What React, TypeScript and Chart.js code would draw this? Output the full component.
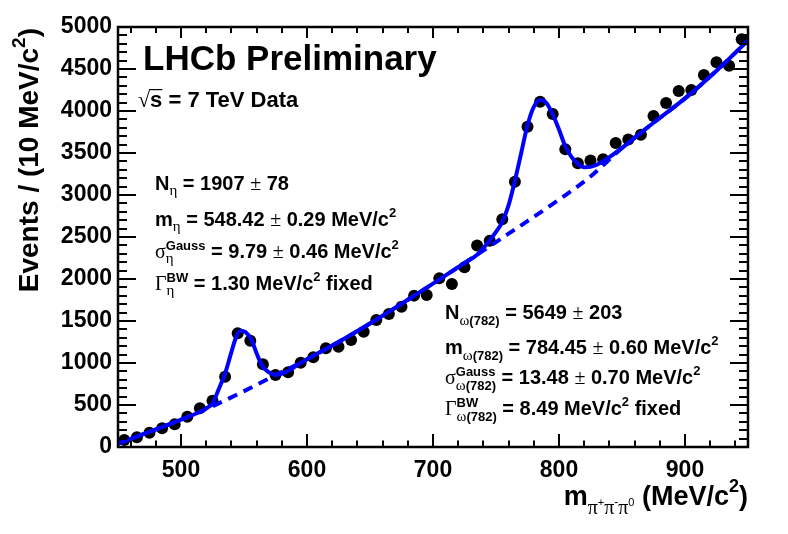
import React, { useEffect, useRef } from 'react';
import { Chart, registerables } from 'chart.js';

Chart.register(...registerables);

// ---- Data ----
const BIN_CENTERS = [
  455, 465, 475, 485, 495, 505, 515, 525, 535, 545,
  555, 565, 575, 585, 595, 605, 615, 625, 635, 645,
  655, 665, 675, 685, 695, 705, 715, 725, 735, 745,
  755, 765, 775, 785, 795, 805, 815, 825, 835, 845,
  855, 865, 875, 885, 895, 905, 915, 925, 935, 945,
];
const EVENTS = [
  83, 115, 170, 222, 270, 361, 460, 551, 837, 1353,
  1266, 985, 857, 891, 1004, 1068, 1175, 1194, 1274, 1373,
  1512, 1583, 1670, 1802, 1810, 2008, 1940, 2139, 2400, 2456,
  2710, 3159, 3813, 4111, 3964, 3546, 3377, 3410, 3425, 3620,
  3660, 3718, 3940, 4095, 4238, 4250, 4429, 4580, 4540, 4853,
];

const FIT_MASS = [
  450, 475, 500, 520, 525, 530, 535, 540, 544, 547,
  551, 556, 560, 564, 569, 575, 584, 594, 600, 625,
  650, 675, 700, 725, 735, 745, 750, 755, 760, 765,
  770, 775, 780, 785, 790, 795, 800, 805, 810, 815,
  820, 825, 830, 840, 850, 875, 900, 925, 950,
];
const FIT_EVENTS = [
  40, 180, 325, 460, 520, 690, 877, 1130, 1320, 1385,
  1370, 1274, 1115, 976, 897, 860, 897, 990, 1045, 1250,
  1470, 1705, 1945, 2190, 2290, 2460, 2560, 2680, 2880, 3170,
  3500, 3830, 4050, 4130, 4095, 3960, 3780, 3580, 3450, 3370,
  3330, 3335, 3360, 3450, 3560, 3860, 4150, 4480, 4840,
];

const BKG_MASS = [
  450, 475, 500, 525, 550, 575, 600, 625, 650, 675,
  700, 725, 750, 775, 800, 825, 850, 875, 900, 925, 950,
];
const BKG_EVENTS = [
  40, 180, 325, 485, 665, 855, 1045, 1250, 1470, 1705,
  1945, 2190, 2440, 2690, 2945, 3220, 3560, 3860, 4150, 4480, 4840,
];

const X_TICKS = [500, 600, 700, 800, 900];
const Y_TICKS = [0, 500, 1000, 1500, 2000, 2500, 3000, 3500, 4000, 4500, 5000];
const X_MINOR_STEP = 20;
const Y_MINOR_STEP = 100;

const SANS = '"Liberation Sans", Arial, Helvetica, sans-serif';
const SERIF = '"Liberation Serif", "Times New Roman", serif';
const BLUE = '#0000ff';

// ---- rich text helpers ----
type Piece = { t: string; size: number; bold: boolean; serif: boolean; dy: number };
type Item = Piece | { up: Piece[]; down: Piece[] };

const B = (t: string, size = 20, dy = 0): Piece => ({ t, size, bold: true, serif: false, dy });
const G = (t: string, size = 20, dy = 0): Piece => ({ t, size, bold: false, serif: true, dy });
const N = (t: string, size = 20, dy = 0): Piece => ({ t, size, bold: false, serif: false, dy });
const SUP2 = B('2', 13, -9);
const PM = G('±', 20, 0);

const ETA_LINES: Item[][] = [
  [B('N'), G('η', 15, 5), B(' = 1907 '), PM, B(' 78')],
  [B('m'), G('η', 15, 5), B(' = 548.42 '), PM, B(' 0.29 MeV/c'), SUP2],
  [G('σ'), { up: [B('Gauss', 13, -8)], down: [G('η', 15, 5)] }, B(' = 9.79 '), PM, B(' 0.46 MeV/c'), SUP2],
  [G('Γ'), { up: [B('BW', 13, -8)], down: [G('η', 15, 5)] }, B(' = 1.30 MeV/c'), SUP2, B(' fixed')],
];
const OMEGA_LINES: Item[][] = [
  [B('N'), G('ω', 15, 6), B('(782)', 13, 6), B(' = 5649 '), PM, B(' 203')],
  [B('m'), G('ω', 15, 6), B('(782)', 13, 6), B(' = 784.45 '), PM, B(' 0.60 MeV/c'), SUP2],
  [G('σ'), { up: [B('Gauss', 13, -8)], down: [G('ω', 15, 6), B('(782)', 13, 6)] }, B(' = 13.48 '), PM, B(' 0.70 MeV/c'), SUP2],
  [G('Γ'), { up: [B('BW', 13, -8)], down: [G('ω', 15, 6), B('(782)', 13, 6)] }, B(' = 8.49 MeV/c'), SUP2, B(' fixed')],
];
const X_TITLE: Item[] = [
  B('m', 27),
  G('π', 20, 9), N('+', 11, 1),
  G('π', 20, 9), N('-', 12, 1),
  G('π', 20, 9), N('0', 11, 1),
  B(' (MeV/c', 27), B('2', 18, -13), B(')', 27),
];
const Y_TITLE: Item[] = [B('Events / (10 MeV/c', 28), B('2', 19, -13), B(')', 28)];

function fontOf(p: Piece) {
  return `${p.bold ? 'bold ' : ''}${p.size}px ${p.serif ? SERIF : SANS}`;
}
function piecesWidth(ctx: CanvasRenderingContext2D, ps: Piece[]) {
  let w = 0;
  for (const p of ps) {
    ctx.font = fontOf(p);
    w += ctx.measureText(p.t).width;
  }
  return w;
}
function itemWidth(ctx: CanvasRenderingContext2D, it: Item) {
  return 'up' in it ? Math.max(piecesWidth(ctx, it.up), piecesWidth(ctx, it.down)) : piecesWidth(ctx, [it]);
}
function lineWidthOf(ctx: CanvasRenderingContext2D, items: Item[]) {
  return items.reduce((s, it) => s + itemWidth(ctx, it), 0);
}
function drawPieces(ctx: CanvasRenderingContext2D, ps: Piece[], x: number, y: number) {
  for (const p of ps) {
    ctx.font = fontOf(p);
    ctx.fillText(p.t, x, y + p.dy);
    x += ctx.measureText(p.t).width;
  }
}
function drawItems(ctx: CanvasRenderingContext2D, items: Item[], x: number, y: number) {
  for (const it of items) {
    if ('up' in it) {
      drawPieces(ctx, it.up, x, y);
      drawPieces(ctx, it.down, x, y);
    } else {
      drawPieces(ctx, [it], x, y);
    }
    x += itemWidth(ctx, it);
  }
}

const rootFramePlugin = {
  id: 'rootFrame',
  afterDatasetsDraw(chart: any) {
    const { ctx, chartArea } = chart;
    const { left, right, top, bottom } = chartArea;
    const xs = chart.scales.x;
    const ys = chart.scales.y;
    ctx.save();
    ctx.strokeStyle = '#000';
    ctx.lineWidth = 2;
    ctx.beginPath();
    const x0 = Math.ceil(xs.min / X_MINOR_STEP) * X_MINOR_STEP;
    for (let v = x0; v <= xs.max + 1e-6; v += X_MINOR_STEP) {
      const px = Math.round(xs.getPixelForValue(v));
      const major = X_TICKS.includes(v);
      ctx.moveTo(px, bottom);
      ctx.lineTo(px, bottom - (major ? 13 : 6.5));
      ctx.moveTo(px, top);
      ctx.lineTo(px, top + (major ? 11 : 6));
    }
    const y0 = Math.ceil(ys.min / Y_MINOR_STEP) * Y_MINOR_STEP;
    for (let v = y0; v <= ys.max + 1e-6; v += Y_MINOR_STEP) {
      const py = Math.round(ys.getPixelForValue(v));
      const major = Y_TICKS.includes(v);
      ctx.moveTo(left, py);
      ctx.lineTo(left + (major ? 18 : 9), py);
      ctx.moveTo(right, py);
      ctx.lineTo(right - (major ? 18 : 9), py);
    }
    ctx.stroke();
    ctx.lineWidth = 2.5;
    ctx.strokeRect(left, top, right - left, bottom - top);
    ctx.restore();
  },
  afterDraw(chart: any) {
    const { ctx, chartArea } = chart;
    ctx.save();
    ctx.fillStyle = '#000';
    ctx.textBaseline = 'alphabetic';
    ctx.textAlign = 'left';

    // Experiment label
    ctx.font = `bold 35px ${SANS}`;
    ctx.fillText('LHCb Preliminary', 143, 70);

    // sqrt(s) line
    const sx = 138, sy = 107;
    ctx.font = `22px ${SERIF}`;
    const rad = ctx.measureText('√');
    ctx.fillText('√', sx, sy);
    const radTop = sy - rad.actualBoundingBoxAscent;
    const sStart = sx + rad.width;
    ctx.font = `bold 22px ${SANS}`;
    const sW = ctx.measureText('s').width;
    ctx.fillText('s = 7 TeV Data', sStart, sy);
    ctx.lineWidth = 1.2;
    ctx.strokeStyle = '#000';
    ctx.beginPath();
    ctx.moveTo(sStart - 1, radTop + 0.6);
    ctx.lineTo(sStart + sW, radTop + 0.6);
    ctx.stroke();

    // fit results
    const etaY = [190, 226, 258, 290];
    ETA_LINES.forEach((ln, i) => drawItems(ctx, ln, 155, etaY[i]));
    const omY = [319, 354, 384, 415];
    OMEGA_LINES.forEach((ln, i) => drawItems(ctx, ln, 445, omY[i]));

    // x axis title, right-aligned to the frame
    const xw = lineWidthOf(ctx, X_TITLE);
    drawItems(ctx, X_TITLE, chartArea.right - xw, 505);

    // y axis title, rotated, ending at the top of the frame
    const yw = lineWidthOf(ctx, Y_TITLE);
    ctx.save();
    ctx.translate(38, chartArea.top + 1 + yw);
    ctx.rotate(-Math.PI / 2);
    drawItems(ctx, Y_TITLE, 0, 0);
    ctx.restore();

    ctx.restore();
  },
};

export default function App() {
  const ref = useRef<HTMLCanvasElement | null>(null);

  useEffect(() => {
    if (!ref.current) return;
    const tickFont = { family: SANS, size: 23, weight: 'bold' as const };
    const plain = (v: any) => String(v);
    const chart = new Chart(ref.current, {
      type: 'line',
      data: {
        datasets: [
          {
            label: 'fit',
            data: FIT_MASS.map((m, i) => ({ x: m, y: FIT_EVENTS[i] })),
            borderColor: BLUE,
            borderWidth: 4,
            pointRadius: 0,
            cubicInterpolationMode: 'monotone',
            fill: false,
          },
          {
            label: 'background',
            data: BKG_MASS.map((m, i) => ({ x: m, y: BKG_EVENTS[i] })),
            borderColor: BLUE,
            borderWidth: 4,
            borderDash: [10, 7],
            pointRadius: 0,
            cubicInterpolationMode: 'monotone',
            fill: false,
          },
          {
            label: 'data',
            data: BIN_CENTERS.map((m, i) => ({ x: m, y: EVENTS[i] })),
            showLine: false,
            pointRadius: 6,
            pointBackgroundColor: '#000',
            pointBorderColor: '#000',
            pointBorderWidth: 0,
            borderColor: '#000',
          },
        ],
      },
      options: {
        responsive: false,
        animation: false,
        events: [],
        layout: { padding: { left: 0, top: 27, right: 40, bottom: 0 } },
        plugins: { legend: { display: false }, tooltip: { enabled: false } },
        scales: {
          x: {
            type: 'linear',
            min: 450,
            max: 950,
            grid: { display: false, drawTicks: false },
            border: { display: false },
            afterBuildTicks: (s: any) => {
              s.ticks = X_TICKS.map((v) => ({ value: v }));
            },
            afterFit: (s: any) => {
              s.height = 87;
            },
            ticks: { font: tickFont, color: '#000', padding: 10, maxRotation: 0, autoSkip: false, callback: plain },
          },
          y: {
            type: 'linear',
            min: 0,
            max: 5000,
            grid: { display: false, drawTicks: false },
            border: { display: false },
            afterBuildTicks: (s: any) => {
              s.ticks = Y_TICKS.map((v) => ({ value: v }));
            },
            afterFit: (s: any) => {
              s.width = 118;
            },
            ticks: { font: tickFont, color: '#000', padding: 6, autoSkip: false, callback: plain },
          },
        },
      },
      plugins: [rootFramePlugin],
    });
    return () => chart.destroy();
  }, []);

  return (
    <div style={{ position: 'absolute', left: 0, top: 0, width: 788, height: 534, background: '#fff' }}>
      <canvas ref={ref} width={788} height={534} />
    </div>
  );
}
